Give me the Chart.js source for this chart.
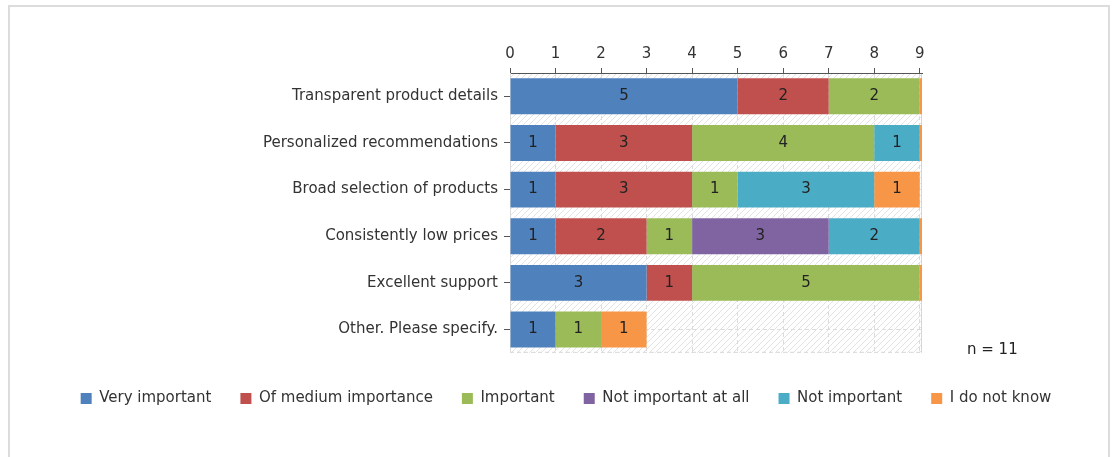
<!DOCTYPE html>
<html>
<head>
<meta charset="utf-8">
<script src="https://cdn.jsdelivr.net/npm/chart.js@4/dist/chart.umd.min.js"></script>
<style>
  html, body { margin: 0; padding: 0; background: #fff; }
  #frame { position: absolute; left: 8px; top: 5px; width: 1102px; height: 470px;
           border: 2px solid #dcdcdc; box-sizing: border-box; }
  #wrap { position: absolute; left: 0; top: 0; width: 1115px; height: 457px; }
</style>
</head>
<body>
<div id="frame"></div>
<div id="wrap"><canvas id="chart"></canvas></div>
<script>
// survey: how important is each aspect (stacked answer counts per row)
const categories = [
  'Transparent product details',
  'Personalized recommendations',
  'Broad selection of products',
  'Consistently low prices',
  'Excellent support',
  'Other. Please specify.'
];
const answerNames = ['Very important', 'Of medium importance', 'Important',
                     'Not important at all', 'Not important', 'I do not know'];
const veryImportant   = [5, 1, 1, 1, 3, 1];
const mediumImportant = [2, 3, 3, 2, 1, 0];
const important       = [2, 4, 1, 1, 5, 1];
const notAtAll        = [0, 0, 0, 3, 0, 0];
const notImportant    = [0, 1, 3, 2, 0, 0];
const doNotKnow       = [2, 2, 1, 2, 2, 1];
const xTicks = [0, 1, 2, 3, 4, 5, 6, 7, 8, 9];
const respondents = 11;

const COLORS = ['#4f81bd', '#c0504d', '#9bbb59', '#8064a2', '#4bacc6', '#f79646'];
const FONT = '"DejaVu Sans", Verdana, sans-serif';

Chart.defaults.font.family = FONT;
Chart.defaults.font.size = 15;
Chart.defaults.color = '#333';

const series = [veryImportant, mediumImportant, important, notAtAll, notImportant, doNotKnow];

// light diagonal hatching behind the bars
function hatchPattern(ctx) {
  const tile = document.createElement('canvas');
  tile.width = 6; tile.height = 6;
  const t = tile.getContext('2d');
  t.strokeStyle = '#e2e2e2';
  t.lineWidth = 1;
  t.beginPath();
  t.moveTo(0, 6); t.lineTo(6, 0);
  t.moveTo(-1, 1); t.lineTo(1, -1);
  t.moveTo(5, 7); t.lineTo(7, 5);
  t.stroke();
  return ctx.createPattern(tile, 'repeat');
}

const plotBackdrop = {
  id: 'plotBackdrop',
  beforeDraw(chart) {
    const { ctx, chartArea: a } = chart;
    ctx.save();
    ctx.fillStyle = hatchPattern(ctx);
    ctx.fillRect(a.left, a.top, a.width, a.height);
    ctx.strokeStyle = '#d6d6d6';
    ctx.lineWidth = 1;
    ctx.beginPath();
    ctx.moveTo(a.right - 0.5, a.top);
    ctx.lineTo(a.right - 0.5, a.bottom);
    ctx.stroke();
    ctx.setLineDash([4, 3]);
    ctx.beginPath();
    ctx.moveTo(a.left, a.bottom - 0.5);
    ctx.lineTo(a.right, a.bottom - 0.5);
    ctx.stroke();
    ctx.restore();
  }
};

// counts written in the middle of each segment, plus the n= note
const segmentLabels = {
  id: 'segmentLabels',
  afterDatasetsDraw(chart) {
    const { ctx, chartArea: a } = chart;
    ctx.save();
    ctx.font = '15px ' + FONT;
    ctx.fillStyle = '#222';
    ctx.textAlign = 'center';
    ctx.textBaseline = 'middle';
    chart.data.datasets.forEach((ds, i) => {
      chart.getDatasetMeta(i).data.forEach((bar, j) => {
        const v = ds.data[j];
        if (!v) return;
        const cx = (bar.x + bar.base) / 2;
        if (cx > a.right) return;
        ctx.fillText(String(v), cx, bar.y);
      });
    });
    ctx.textAlign = 'left';
    ctx.fillText('n = ' + respondents, a.right + 45, a.bottom - 3);
    ctx.restore();
  }
};

new Chart(document.getElementById('chart'), {
  type: 'bar',
  data: {
    labels: categories,
    datasets: series.map((data, i) => ({
      label: answerNames[i],
      data,
      backgroundColor: COLORS[i],
      borderWidth: 0,
      barPercentage: 0.77,
      categoryPercentage: 1,
      clip: 0,
      xAxisID: 'x',
      yAxisID: 'y'
    }))
  },
  options: {
    indexAxis: 'y',
    responsive: true,
    maintainAspectRatio: false,
    animation: false,
    layout: { padding: { top: 40, left: 17, right: 0, bottom: 41 } },
    scales: {
      x: {
        type: 'linear', position: 'top', stacked: true,
        min: 0, max: 9.05,
        afterBuildTicks: s => { s.ticks = xTicks.map(v => ({ value: v })); },
        ticks: { color: '#333', padding: 5 },
        grid: { color: '#dcdcdc', tickColor: '#555', tickLength: 5 },
        border: { color: '#555', dash: [4, 3] }
      },
      y: {
        type: 'category', stacked: true,
        afterFit: s => { s.width = 493; },
        ticks: { color: '#333', padding: 6 },
        grid: { offset: false, color: '#dcdcdc', tickColor: '#555', tickLength: 6 },
        border: { color: '#dcdcdc', dash: [4, 3] }
      },
      // empty strip on the right that holds the n= note
      side: {
        type: 'linear', position: 'right', display: true,
        ticks: { display: false },
        grid: { display: false },
        border: { display: false },
        afterFit: s => { s.width = 193; }
      }
    },
    plugins: {
      legend: {
        position: 'bottom',
        title: { display: true, text: '', font: { size: 1 }, padding: { top: 8, bottom: 0 } },
        labels: { boxWidth: 11, boxHeight: 11, padding: 29, color: '#333', font: { size: 15 } }
      },
      tooltip: { enabled: false }
    }
  },
  plugins: [plotBackdrop, segmentLabels]
});
</script>
</body>
</html>
